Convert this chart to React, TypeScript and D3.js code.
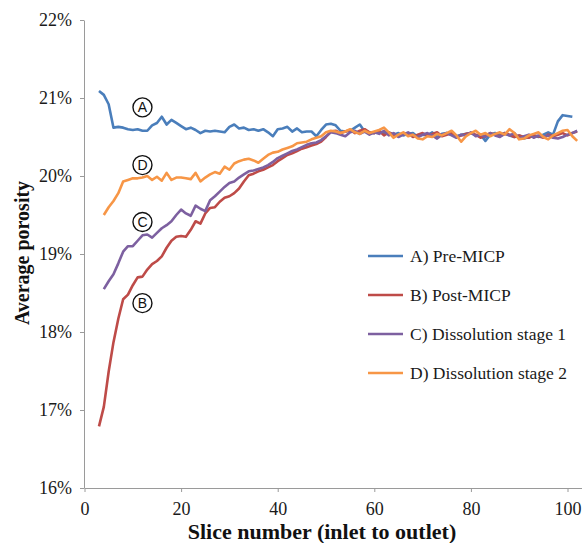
import React, { useEffect, useRef } from "react";
import * as d3 from "d3";

// slice numbers 3..102 (index 0 -> slice 3)
const firstSlice = 3;

// values in %, null where a series has no point
const preMICP = [
  21.09, 21.04, 20.92, 20.62, 20.63, 20.62, 20.6, 20.59, 20.6, 20.58,
  20.58, 20.65, 20.68, 20.76, 20.66, 20.72, 20.68, 20.64, 20.6, 20.62,
  20.59, 20.55, 20.58, 20.57, 20.58, 20.57, 20.56, 20.63, 20.66, 20.61,
  20.62, 20.59, 20.6, 20.58, 20.6, 20.56, 20.51, 20.6, 20.61, 20.63,
  20.57, 20.61, 20.56, 20.57, 20.57, 20.51, 20.59, 20.66, 20.67, 20.65,
  20.58, 20.57, 20.58, 20.62, 20.66, 20.57, 20.56, 20.55, 20.57, 20.55,
  20.56, 20.53, 20.55, 20.52, 20.54, 20.55, 20.5, 20.53, 20.52, 20.56,
  20.5, 20.54, 20.55, 20.53, 20.51, 20.53, 20.54, 20.55, 20.52, 20.53,
  20.45, 20.53, 20.55, 20.53, 20.55, 20.52, 20.5, 20.52, 20.48, 20.5,
  20.52, 20.5, 20.53, 20.56, 20.53, 20.7, 20.78, 20.77, 20.76, null,
];

const postMICP = [
  16.79, 17.04, 17.49, 17.87, 18.17, 18.42, 18.48, 18.6, 18.7, 18.71,
  18.8, 18.87, 18.91, 18.97, 19.08, 19.17, 19.22, 19.23, 19.22, 19.31,
  19.42, 19.39, 19.52, 19.59, 19.6, 19.67, 19.72, 19.74, 19.78, 19.84,
  19.93, 20.01, 20.03, 20.06, 20.08, 20.11, 20.14, 20.19, 20.23, 20.27,
  20.29, 20.32, 20.35, 20.37, 20.39, 20.41, 20.44, 20.5, 20.57, 20.58,
  20.55, 20.57, 20.59, 20.55, 20.58, 20.6, 20.56, 20.55, 20.58, 20.52,
  20.56, 20.53, 20.51, 20.55, 20.54, 20.5, 20.53, 20.55, 20.52, 20.54,
  20.56, 20.51, 20.53, 20.55, 20.5, 20.52, 20.54, 20.55, 20.53, 20.49,
  20.52, 20.55, 20.53, 20.51, 20.55, 20.53, 20.5, 20.52, 20.5, 20.49,
  20.52, 20.51, 20.49, 20.53, 20.51, 20.53, 20.55, 20.52, 20.55, 20.57,
];

const stage1 = [
  null, 18.55, 18.65, 18.74, 18.88, 19.03, 19.1, 19.1, 19.17, 19.24,
  19.25, 19.21, 19.27, 19.33, 19.37, 19.42, 19.5, 19.57, 19.52, 19.49,
  19.62, 19.58, 19.55, 19.69, 19.74, 19.8, 19.86, 19.91, 19.93, 19.98,
  20.02, 20.06, 20.07, 20.09, 20.11, 20.14, 20.18, 20.23, 20.26, 20.29,
  20.32, 20.34, 20.37, 20.4, 20.42, 20.43, 20.46, 20.51, 20.56, 20.55,
  20.53, 20.51, 20.56, 20.58, 20.54, 20.57, 20.53, 20.56, 20.54, 20.58,
  20.52, 20.55, 20.5, 20.53, 20.56, 20.52, 20.5, 20.53, 20.55, 20.52,
  20.48, 20.53, 20.55, 20.52, 20.49, 20.53, 20.52, 20.56, 20.51, 20.53,
  20.5, 20.55, 20.52, 20.5, 20.54, 20.52, 20.55, 20.48, 20.51, 20.53,
  20.49, 20.52, 20.5, 20.52, 20.49, 20.48, 20.5, 20.53, 20.55, 20.58,
];

const stage2 = [
  null, 19.5, 19.6, 19.68, 19.78, 19.93, 19.95, 19.97, 19.97, 19.98,
  20.0, 19.95, 19.99, 19.94, 20.04, 19.95, 19.98, 19.98, 19.97, 19.96,
  20.04, 19.93, 19.98, 20.02, 20.05, 20.03, 20.12, 20.08, 20.16, 20.19,
  20.21, 20.22, 20.2, 20.17, 20.22, 20.27, 20.3, 20.31, 20.34, 20.36,
  20.38, 20.42, 20.43, 20.44, 20.47, 20.49, 20.51, 20.56, 20.58, 20.57,
  20.55, 20.57, 20.6, 20.56, 20.54, 20.58, 20.55, 20.57, 20.59, 20.62,
  20.56, 20.49, 20.53, 20.56, 20.51, 20.53, 20.48, 20.47, 20.51, 20.5,
  20.54, 20.52, 20.55, 20.58, 20.52, 20.44, 20.51, 20.55, 20.58, 20.53,
  20.55, 20.51, 20.54, 20.56, 20.53, 20.6, 20.55, 20.47, 20.48, 20.52,
  20.54, 20.56, 20.5, 20.47, 20.52, 20.55, 20.58, 20.59, 20.51, 20.45,
];

const seriesNames = [
  "A) Pre-MICP",
  "B) Post-MICP",
  "C) Dissolution stage 1",
  "D) Dissolution stage 2",
];
const seriesValues = [preMICP, postMICP, stage1, stage2];
const colors = ["#4a7ebb", "#be4b48", "#7d60a0", "#f79646"];

const yTicks = [16, 17, 18, 19, 20, 21, 22];
const xTicks = [0, 20, 40, 60, 80, 100];

// circled labels: letter, slice, value
const markLetters = ["A", "D", "C", "B"];
const markSlices = [12, 12, 12, 12];
const markValues = [20.88, 20.14, 19.41, 18.37];

const width = 582,
  height = 543;
const margin = { top: 20, right: 0, bottom: 55, left: 84 };

const serif = "Liberation Serif";
const sans = "Liberation Sans";

export default function App(): JSX.Element {
  const ref = useRef<SVGSVGElement>(null);

  useEffect(() => {
    if (!ref.current) return;
    const svg = d3.select(ref.current);
    svg.selectAll("*").remove();

    const x = d3
      .scaleLinear()
      .domain([0, 103])
      .range([margin.left + 0.5, width - margin.right]);
    const y = d3
      .scaleLinear()
      .domain([16, 22])
      .range([height - margin.bottom, margin.top]);

    const axisColor = "#9a9a9a";

    // x axis
    const gx = svg
      .append("g")
      .attr("transform", `translate(0,${height - margin.bottom})`)
      .call(d3.axisBottom(x).tickValues(xTicks).tickSize(4).tickSizeOuter(0));
    gx.attr("font-family", null).attr("font-size", null);
    gx.selectAll("path, line").attr("stroke", axisColor);
    gx.selectAll("text")
      .style("font-family", serif)
      .style("font-size", "18px")
      .attr("fill", "#1a1a1a")
      .attr("y", 0)
      .attr("dy", 27);

    // y axis
    const gy = svg
      .append("g")
      .attr("transform", `translate(${margin.left},0)`)
      .call(
        d3
          .axisLeft(y)
          .tickValues(yTicks)
          .tickSize(4)
          .tickSizeOuter(0)
          .tickFormat((d) => `${d}%`)
      );
    gy.attr("font-family", null).attr("font-size", null);
    gy.selectAll("path, line").attr("stroke", axisColor);
    gy.selectAll("text")
      .style("font-family", serif)
      .style("font-size", "18px")
      .attr("fill", "#1a1a1a")
      .attr("x", -12);

    // lines
    const line = d3
      .line<number | null>()
      .defined((d) => d !== null)
      .x((_, i) => x(firstSlice + i))
      .y((d) => y(d as number));

    seriesValues.forEach((vals, k) => {
      svg
        .append("path")
        .datum(vals)
        .attr("fill", "none")
        .attr("stroke", colors[k])
        .attr("stroke-width", 2.6)
        .attr("stroke-linejoin", "round")
        .attr("d", line);
    });

    // circled letters
    markLetters.forEach((ch, i) => {
      const g = svg
        .append("g")
        .attr(
          "transform",
          `translate(${x(markSlices[i])},${y(markValues[i])})`
        );
      g.append("circle")
        .attr("r", 9.5)
        .attr("fill", "white")
        .attr("stroke", "#111")
        .attr("stroke-width", 1.4);
      g.append("text")
        .attr("text-anchor", "middle")
        .attr("dy", "0.36em")
        .style("font-family", sans)
        .style("font-size", "14px")
        .attr("fill", "#111")
        .text(ch);
    });

    // legend
    const legend = svg
      .append("g")
      .attr("transform", "translate(368,256)")
      .selectAll("g")
      .data(seriesNames)
      .join("g")
      .attr("transform", (_, i) => `translate(0,${i * 39})`);
    legend
      .append("line")
      .attr("x1", 0)
      .attr("x2", 35)
      .attr("stroke", (_, i) => colors[i])
      .attr("stroke-width", 2.6);
    legend
      .append("text")
      .attr("x", 42)
      .attr("dy", "0.35em")
      .style("font-family", serif)
      .style("font-size", "17.5px")
      .attr("fill", "#1a1a1a")
      .text((d) => d);

    // axis titles
    svg
      .append("text")
      .attr("x", 322)
      .attr("y", 539)
      .attr("text-anchor", "middle")
      .style("font-family", serif)
      .style("font-weight", "bold")
      .style("font-size", "22px")
      .attr("fill", "#111")
      .text("Slice number (inlet to outlet)");
    svg
      .append("text")
      .attr("transform", "translate(29,253) rotate(-90)")
      .attr("text-anchor", "middle")
      .style("font-family", serif)
      .style("font-weight", "bold")
      .style("font-size", "20px")
      .attr("fill", "#111")
      .text("Average porosity");
  }, []);

  return (
    <svg
      ref={ref}
      width={width}
      height={height}
      style={{ position: "absolute", left: 0, top: 0, background: "white" }}
    />
  );
}
